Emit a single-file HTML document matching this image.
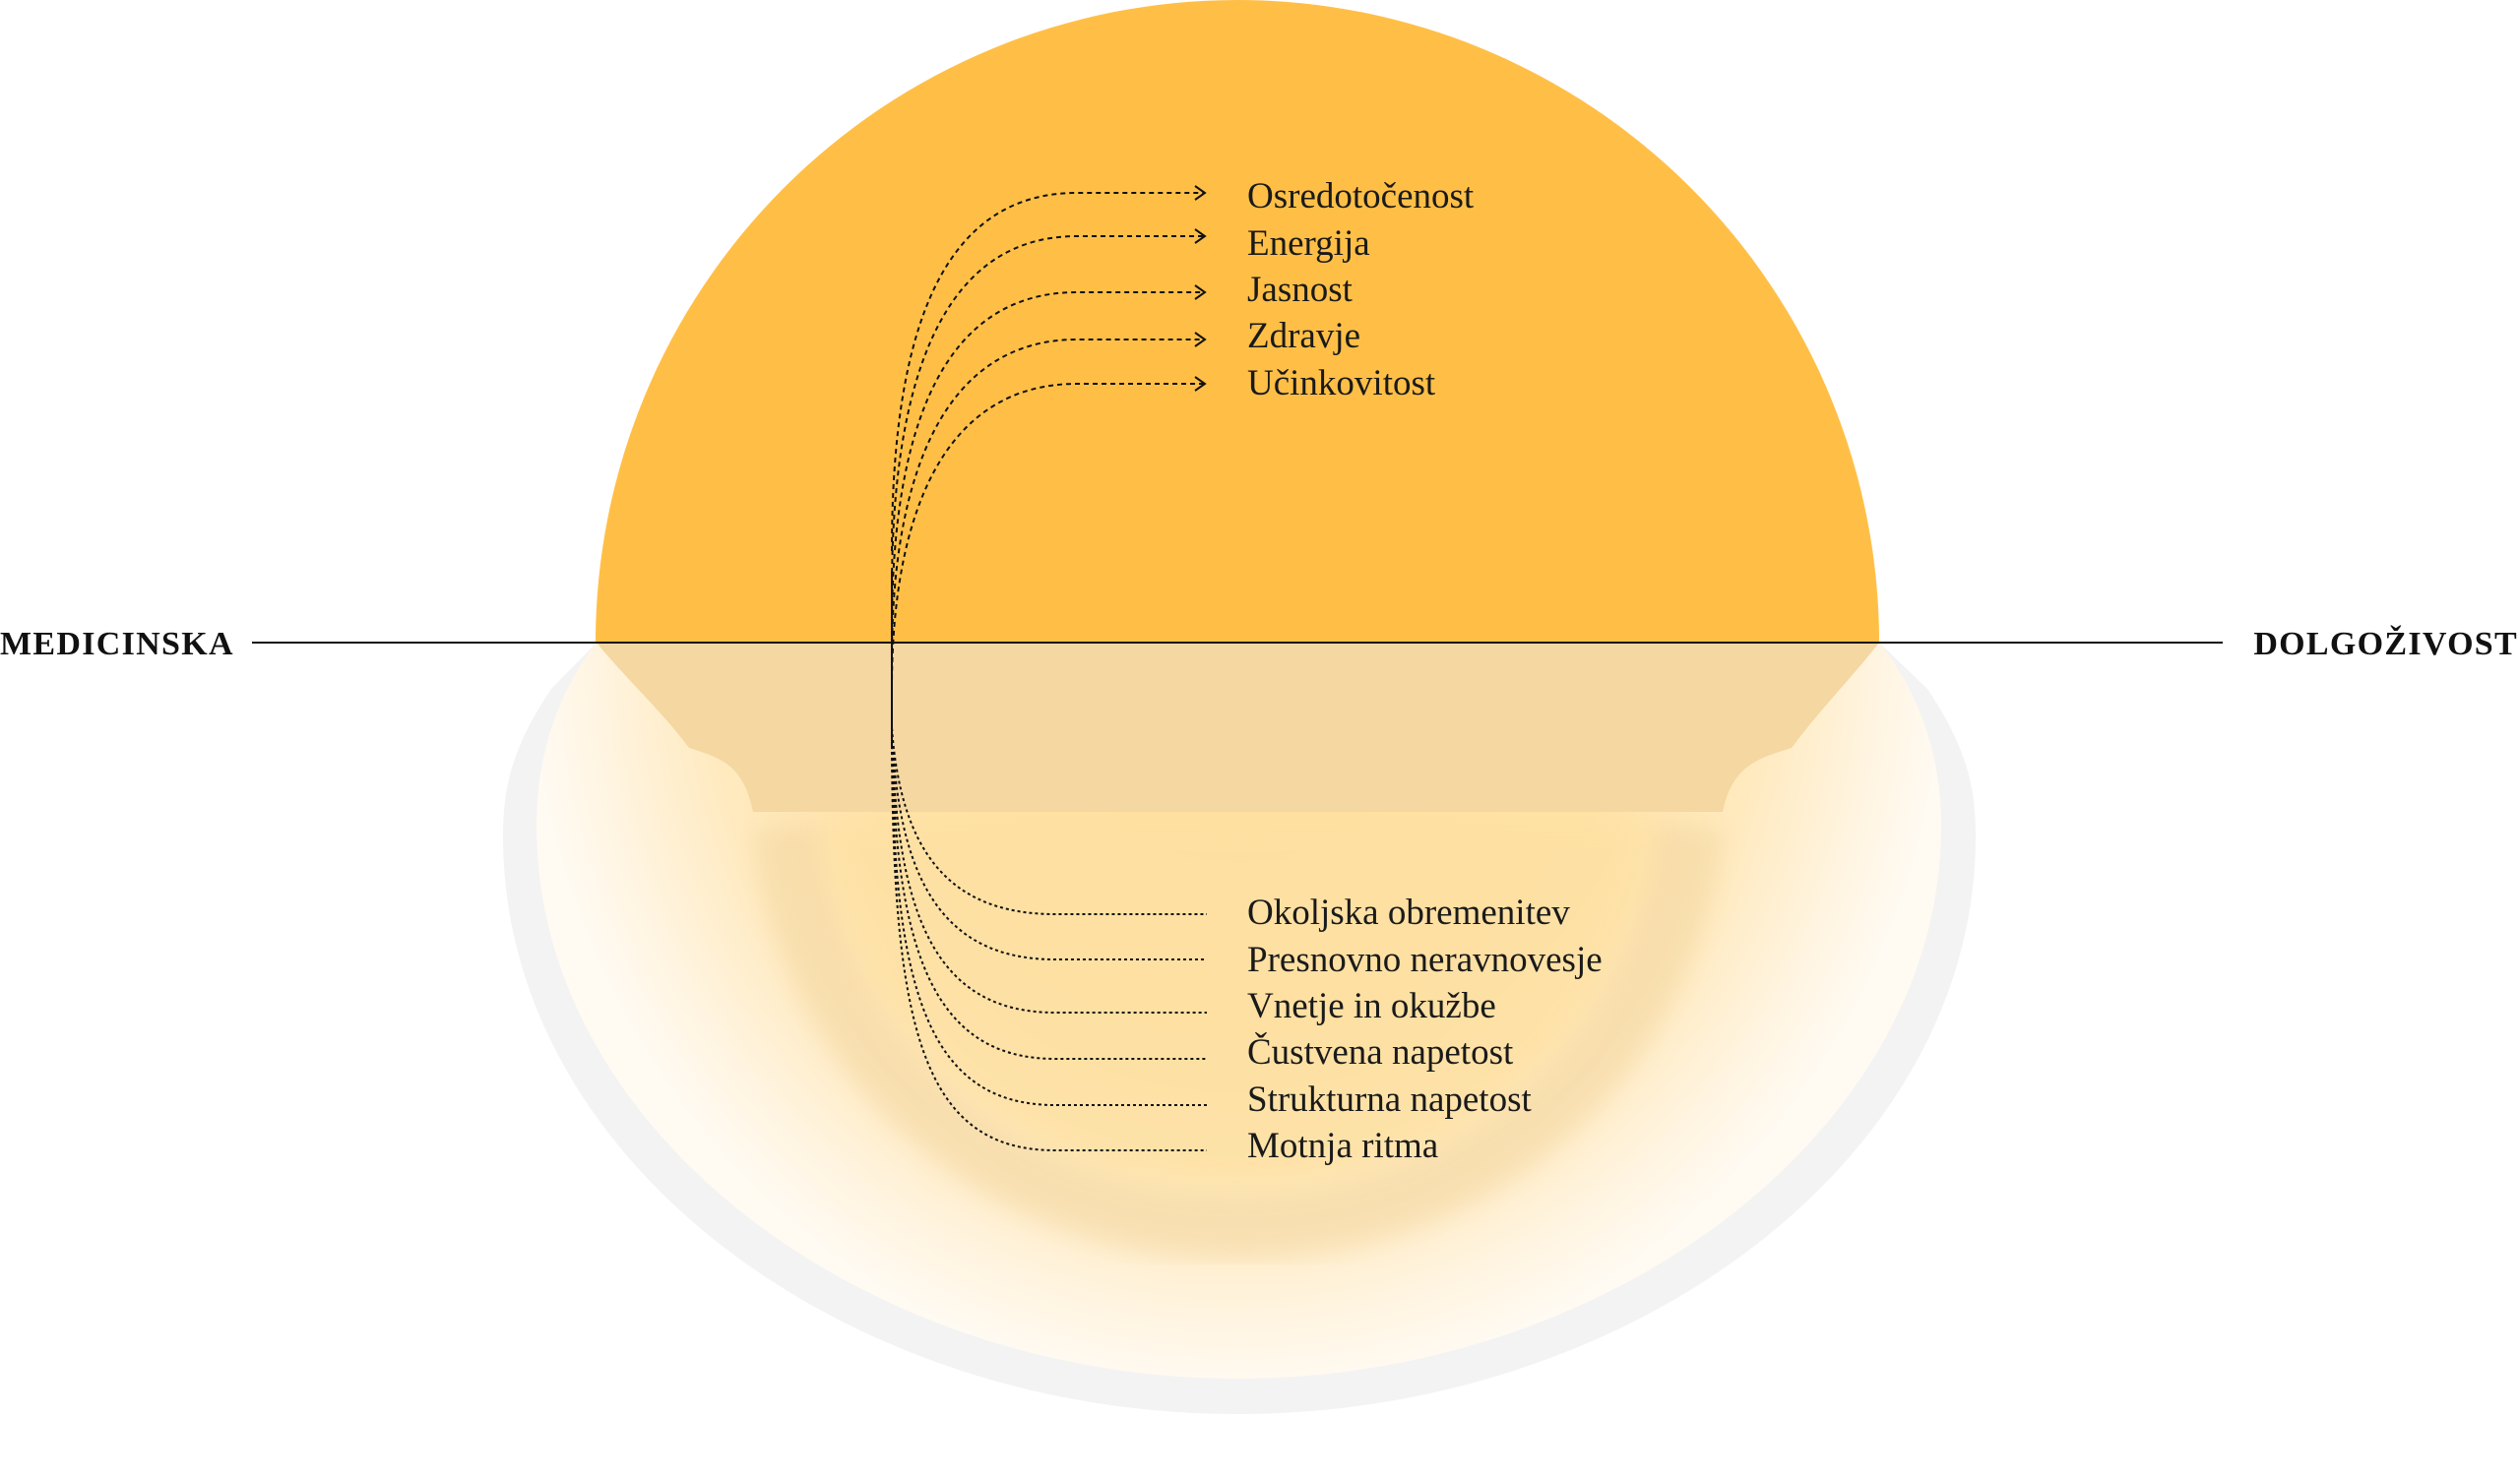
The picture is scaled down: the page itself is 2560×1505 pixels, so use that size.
<!DOCTYPE html>
<html><head><meta charset="utf-8"><style>
html,body{margin:0;padding:0;background:#fff;}
body{width:2560px;height:1505px;overflow:hidden;position:relative;font-family:"Liberation Serif",serif;}
svg{position:absolute;left:0;top:0;}
</style></head><body>
<svg width="2560" height="1505" viewBox="0 0 2560 1505">
<defs>
<radialGradient id="g" cx="1257" cy="653" r="1" gradientUnits="userSpaceOnUse" gradientTransform="translate(1257 653) scale(720 760) translate(-1257 -653)">
<stop offset="0" stop-color="#ffdf9c"/>
<stop offset="0.55" stop-color="#ffe2a6"/>
<stop offset="0.75" stop-color="#ffeac0"/>
<stop offset="0.9" stop-color="#fff4e0"/>
<stop offset="1" stop-color="#fffaf2"/>
</radialGradient>
<filter id="b" x="-10%" y="-10%" width="120%" height="120%"><feGaussianBlur stdDeviation="12"/></filter>
</defs>
<path d="M606,653 L560,700 C520,760 511,800 511,850 C511,1180 860,1437 1257,1437 C1654,1437 2007,1180 2007,850 C2007,800 1998,760 1958,700 L1909,653 Z" fill="#f3f3f3"/>
<path d="M606,653 C570,700 545,760 545,840 C545,1150 880,1401 1257,1401 C1634,1401 1972,1150 1972,840 C1972,760 1946,700 1909,653 Z" fill="url(#g)"/>
<path d="M800,840 C820,1060 1000,1245 1257,1245 C1514,1245 1694,1060 1715,840" fill="none" stroke="#f3d6a0" stroke-width="70" opacity="0.55" filter="url(#b)"/>
<path d="M838,835 L1676,835 C1660,1040 1490,1205 1257,1205 C1024,1205 854,1040 838,835 Z" fill="#fde0a2" opacity="0.7" filter="url(#b)"/>
<path d="M606,653 L1909,653 C1880,690 1850,720 1820,760 C1790,770 1760,775 1750,825 L765,825 C755,775 730,770 700,760 C670,720 636,690 606,653 Z" fill="#f4d7a1"/>
<path d="M605,653 A652,653 0 0 1 1909,653 Z" fill="#ffbf47"/>
<line x1="256" y1="653" x2="2258" y2="653" stroke="#111" stroke-width="2"/>
<line x1="906" y1="580" x2="906" y2="760" stroke="#111" stroke-width="2"/>
<g fill="none" stroke="#111" stroke-width="2" stroke-dasharray="5,4">
<path d="M906,560 C906,330 960,196 1094,196 L1222,196"/>
<path d="M906,600 C906,380 960,240 1094,240 L1222,240"/>
<path d="M906,640 C906,430 960,297 1094,297 L1222,297"/>
<path d="M906,670 C906,480 960,345 1094,345 L1222,345"/>
<path d="M906,700 C906,520 960,390 1094,390 L1222,390"/>
</g>
<g fill="none" stroke="#111" stroke-width="2">
<path d="M1214,189 L1224,196 L1214,203"/>
<path d="M1214,233 L1224,240 L1214,247"/>
<path d="M1214,290 L1224,297 L1214,304"/>
<path d="M1214,338 L1224,345 L1214,352"/>
<path d="M1214,383 L1224,390 L1214,397"/>
</g>
<g fill="none" stroke="#111" stroke-width="2" stroke-dasharray="3,3">
<path d="M906,740 C915,860 960,929 1072,929 L1226,929"/>
<path d="M906,740 C912,890 955,975 1072,975 L1226,975"/>
<path d="M906,740 C910,930 950,1029 1072,1029 L1226,1029"/>
<path d="M906,740 C908,960 945,1076 1072,1076 L1226,1076"/>
<path d="M906,740 C906,1000 940,1123 1072,1123 L1226,1123"/>
<path d="M906,740 C906,1040 935,1169 1072,1169 L1226,1169"/>
</g>
<g font-family="Liberation Serif, serif" font-size="37" fill="#1a1a1a">
<text x="1267" y="211">Osredotočenost</text>
<text x="1267" y="259">Energija</text>
<text x="1267" y="306">Jasnost</text>
<text x="1267" y="353">Zdravje</text>
<text x="1267" y="401">Učinkovitost</text>
<text x="1267" y="939">Okoljska obremenitev</text>
<text x="1267" y="987">Presnovno neravnovesje</text>
<text x="1267" y="1034">Vnetje in okužbe</text>
<text x="1267" y="1081">Čustvena napetost</text>
<text x="1267" y="1129">Strukturna napetost</text>
<text x="1267" y="1176">Motnja ritma</text>
</g>
<g font-family="Liberation Serif, serif" font-size="34" font-weight="bold" fill="#111" letter-spacing="1.3">
<text x="0" y="665">MEDICINSKA</text>
<text x="2558" y="665" text-anchor="end">DOLGOŽIVOST</text>
</g>
</svg>
</body></html>
